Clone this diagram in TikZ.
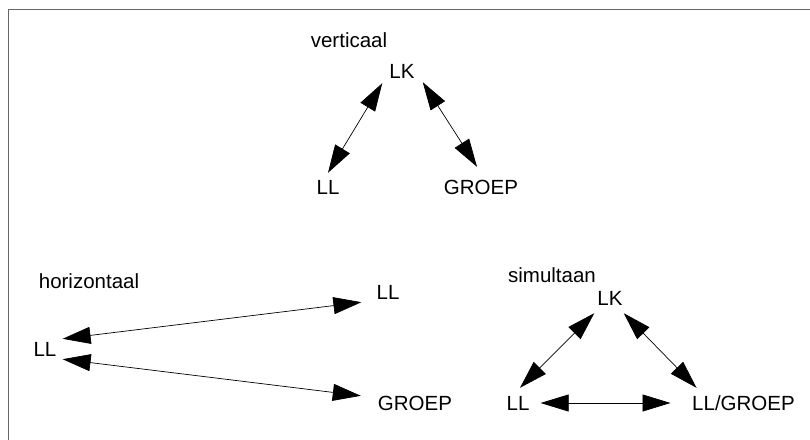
\documentclass[tikz,border=0pt]{standalone}
\usepackage{fontspec}
\setmainfont{Liberation Sans}
\usetikzlibrary{arrows.meta}
\begin{document}
\begin{tikzpicture}[x=1pt,y=-1pt,
  lbl/.style={inner sep=0pt,text height=14pt,text depth=0pt,font=\fontsize{20.5}{24}\selectfont},
  biarr/.style={{Triangle[length=28pt,width=17pt]}-{Triangle[length=28pt,width=17pt]},line width=0.7pt,black}]
\useasboundingbox (0,0) rectangle (810,439);
\fill[white] (0,0) rectangle (810,439);
\draw[line width=1.2pt,black!60] (8.5,445) -- (8.5,9.5) -- (815,9.5);
% vertical
\node[lbl] (tv) at (349,40) {verticaal};
\node[lbl] (LKv) at (402,71) {LK};
\node[lbl] (LLv) at (328,187) {LL};
\node[lbl] (Gv) at (481,187) {GROEP};
\draw[biarr] ([shift={(-7,5)}]LKv.south west) -- ([shift={(0,-7)}]LLv.north);
\draw[biarr] ([shift={(8,4)}]LKv.south east) -- ([shift={(-4,-13)}]Gv.north);
% horizontal
\node[lbl] (th) at (89,281) {horizontaal};
\node[lbl] (LLh) at (45,349) {LL};
\node[lbl] (LLh2) at (388,292) {LL};
\node[lbl] (Gh) at (415,403) {GROEP};
\draw[biarr] ([shift={(6,-3)}]LLh.north east) -- ([shift={(-15,3)}]LLh2.south west);
\draw[biarr] ([shift={(6,3)}]LLh.south east) -- ([shift={(-17,0)}]Gh.north west);
% simultaan
\node[lbl] (ts) at (552,275) {simultaan};
\node[lbl] (LKs) at (610,298) {LK};
\node[lbl] (LLs) at (518,403) {LL};
\node[lbl] (LGs) at (743.5,403) {LL/GROEP};
\draw[biarr] ([shift={(-3,8)}]LKs.south west) -- ([shift={(2,-8)}]LLs.north);
\draw[biarr] ([shift={(1,8)}]LKs.south east) -- ([shift={(4.5,-8)}]LGs.north west);
\draw[biarr] ([shift={(11,0)}]LLs.east) -- ([shift={(-21.5,0)}]LGs.west);
\end{tikzpicture}
\end{document}
